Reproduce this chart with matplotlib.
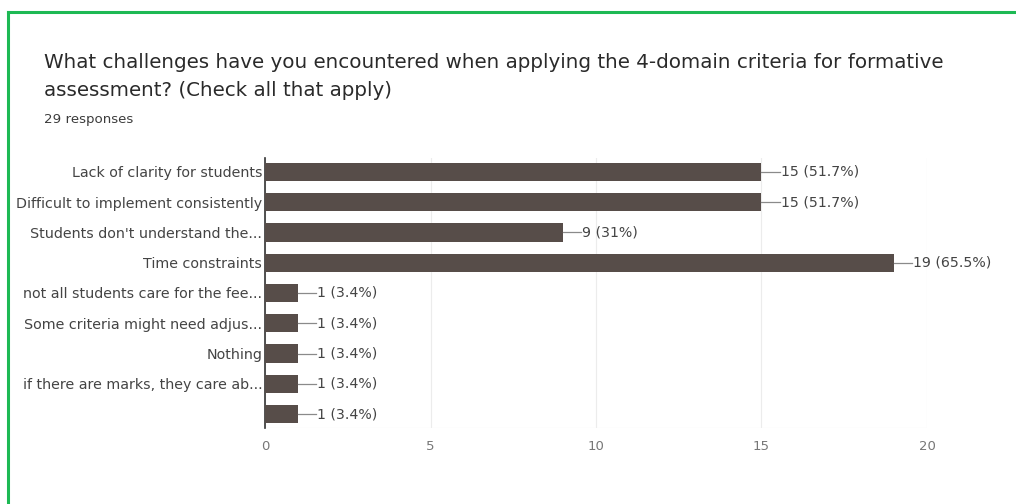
import matplotlib.pyplot as plt
from matplotlib.lines import Line2D

plt.rcParams['font.family'] = ['DejaVu Sans']

categories = [
    "Lack of clarity for students",
    "Difficult to implement consistently",
    "Students don't understand the...",
    "Time constraints",
    "not all students care for the fee...",
    "Some criteria might need adjus...",
    "Nothing",
    "if there are marks, they care ab...",
    "",
]
counts = [15, 15, 9, 19, 1, 1, 1, 1, 1]
percents = ["51.7%", "51.7%", "31%", "65.5%", "3.4%", "3.4%", "3.4%", "3.4%", "3.4%"]
xticks = [0, 5, 10, 15, 20]

fig = plt.figure(figsize=(10.16, 5.04), dpi=100)

# card border
fig.add_artist(Line2D([8 / 1016, 1], [1 - 12 / 504] * 2, color='#1db954', lw=2.2))
fig.add_artist(Line2D([8 / 1016] * 2, [0, 1 - 12 / 504], color='#1db954', lw=2.2))

fig.text(44 / 1016, 1 - 62 / 504,
         "What challenges have you encountered when applying the 4-domain criteria for formative",
         fontsize=14.3, color='#2a2a2a', va='center')
fig.text(44 / 1016, 1 - 91 / 504, "assessment? (Check all that apply)",
         fontsize=14.3, color='#2a2a2a', va='center')
fig.text(44 / 1016, 1 - 119 / 504, "29 responses", fontsize=9.6, color='#3c3c3c', va='center')

ax = fig.add_axes([265 / 1016, 1 - 428 / 504, (927 - 265) / 1016, (428 - 158) / 504])
y = list(range(len(categories)))
ax.barh(y, counts, height=0.6, color='#574d49', zorder=3)
ax.set_xlim(0, 20)
ax.set_ylim(len(categories) - 0.54, -0.46)

for i, (c, p) in enumerate(zip(counts, percents)):
    ax.plot([c, c + 0.55], [i, i], color='#8a8a8a', lw=0.9, zorder=3)
    ax.text(c + 0.58, i, f"{c} ({p})", va='center', ha='left', fontsize=10.2, color='#444444')

ax.set_yticks(y)
ax.set_yticklabels(categories, fontsize=10.3, color='#444444')
ax.set_xticks(xticks)
ax.set_xticklabels([str(t) for t in xticks], fontsize=9.5, color='#777777')
ax.tick_params(axis='y', length=0, pad=2)
ax.tick_params(axis='x', length=0, pad=9)

ax.grid(axis='x', color='#ececec', lw=0.8, zorder=0)
for s in ['top', 'right', 'bottom']:
    ax.spines[s].set_visible(False)
ax.spines['left'].set_color('#333333')
ax.spines['left'].set_linewidth(1.2)
ax.axhline(len(categories) - 0.54, color='#ececec', lw=0.8, zorder=0)

fig.savefig('out.png', dpi=100)
